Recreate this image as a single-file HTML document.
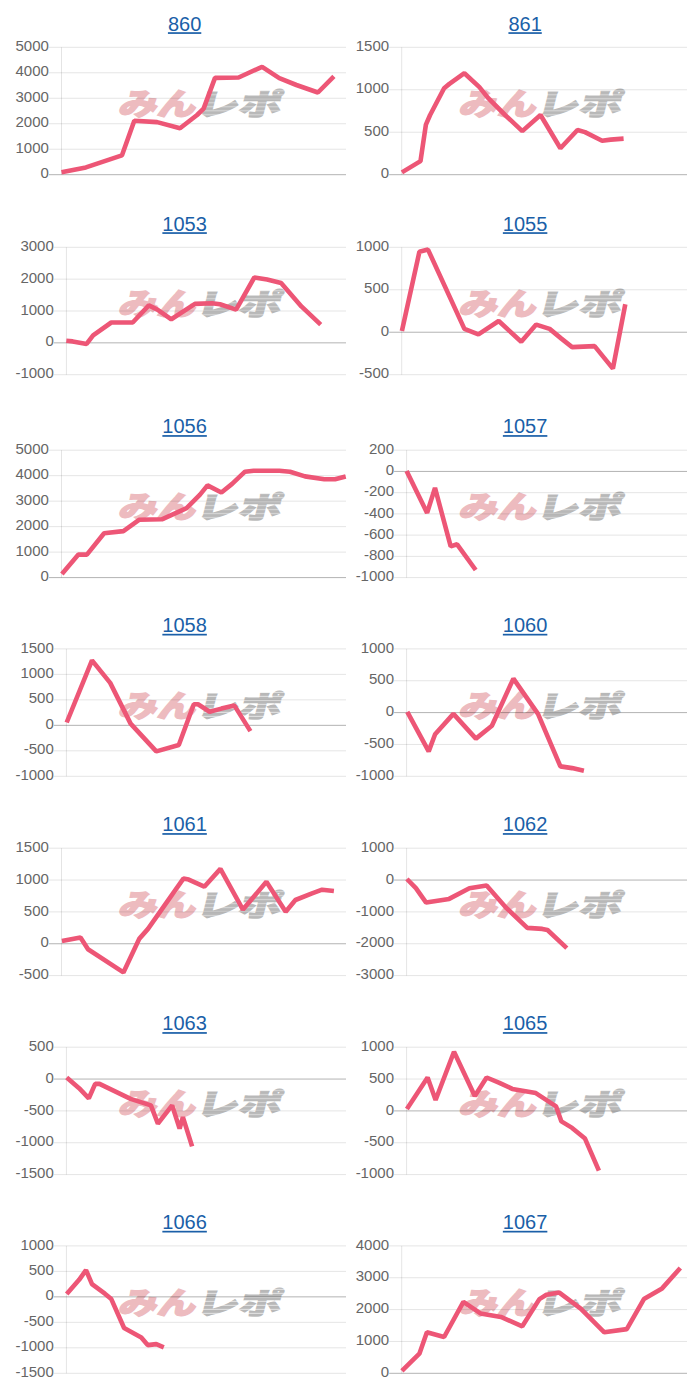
<!DOCTYPE html>
<html><head><meta charset="utf-8"><title>charts</title>
<style>
html,body{margin:0;padding:0;background:#fff;width:700px;height:1400px;overflow:hidden}
svg{position:absolute;left:0;top:0;display:block}
.lb{font-family:"Liberation Sans",sans-serif;font-size:15px;fill:#666;text-anchor:end}
.tt{font-family:"Liberation Sans",sans-serif;font-size:20px;fill:#1a5fa8;text-anchor:middle}
.wm text{font-family:"Liberation Sans","Noto Sans CJK JP",sans-serif;font-weight:900;stroke-width:1.4px;stroke-linejoin:miter}
.wm1{fill:#edbbbf;stroke:#edbbbf;font-size:30.5px}
.wm2{fill:url(#stripe);stroke:url(#stripe);font-size:29.5px}
</style></head><body>
<svg width="700" height="1400" viewBox="0 0 700 1400">
<defs><pattern id="stripe" patternUnits="userSpaceOnUse" width="8" height="4"><rect width="8" height="4" fill="#b8b8b8"/><rect y="3" width="8" height="1" fill="#dedede"/></pattern></defs>
<g><g class="wm"><text class="wm1" transform="translate(117.5,115.3) skewX(-14) scale(1.267,1)">みん</text><text class="wm2" transform="translate(195,115.3) skewX(-14) scale(1.437,1)">レポ</text></g><line x1="49" x2="346" y1="47.3" y2="47.3" stroke="rgba(0,0,0,0.105)"/><text class="lb" x="48.9" y="50.9">5000</text><line x1="49" x2="346" y1="72.78" y2="72.78" stroke="rgba(0,0,0,0.105)"/><text class="lb" x="48.9" y="76.38">4000</text><line x1="49" x2="346" y1="98.26" y2="98.26" stroke="rgba(0,0,0,0.105)"/><text class="lb" x="48.9" y="101.86">3000</text><line x1="49" x2="346" y1="123.74" y2="123.74" stroke="rgba(0,0,0,0.105)"/><text class="lb" x="48.9" y="127.34">2000</text><line x1="49" x2="346" y1="149.22" y2="149.22" stroke="rgba(0,0,0,0.105)"/><text class="lb" x="48.9" y="152.82">1000</text><line x1="49" x2="346" y1="174.7" y2="174.7" stroke="rgba(0,0,0,0.3)"/><text class="lb" x="48.9" y="178.3">0</text><line x1="61.5" x2="61.5" y1="47.3" y2="174.7" stroke="rgba(0,0,0,0.105)"/><polyline points="61.5,172.2 85.9,167.4 121.9,155.4 134.3,120.7 157.1,122.1 180,128.3 197.1,115 203.6,108.6 215,77.9 238.6,77.5 262.1,66.8 279.3,78.1 296.4,85 317.9,92.5 333.9,76.4" fill="none" stroke="#ed5676" stroke-width="4.6" stroke-linejoin="bevel" stroke-linecap="butt"/><text class="tt" x="184.6" y="30.5">860</text><rect x="167.92" y="32.2" width="33.36" height="1.7" fill="#1a5fa8"/></g>
<g><g class="wm"><text class="wm1" transform="translate(458,115.3) skewX(-14) scale(1.267,1)">みん</text><text class="wm2" transform="translate(535.5,115.3) skewX(-14) scale(1.437,1)">レポ</text></g><line x1="389.2" x2="687" y1="47.3" y2="47.3" stroke="rgba(0,0,0,0.105)"/><text class="lb" x="389.1" y="50.9">1500</text><line x1="389.2" x2="687" y1="89.77" y2="89.77" stroke="rgba(0,0,0,0.105)"/><text class="lb" x="389.1" y="93.37">1000</text><line x1="389.2" x2="687" y1="132.23" y2="132.23" stroke="rgba(0,0,0,0.105)"/><text class="lb" x="389.1" y="135.83">500</text><line x1="389.2" x2="687" y1="174.7" y2="174.7" stroke="rgba(0,0,0,0.3)"/><text class="lb" x="389.1" y="178.3">0</text><line x1="401.7" x2="401.7" y1="47.3" y2="174.7" stroke="rgba(0,0,0,0.105)"/><polyline points="401.9,172.4 420.5,161.1 425.9,124.6 430.1,115 444.1,88.2 449.4,83.9 464.4,73.2 479.4,87.1 488,97.9 505.1,115 522.3,131.1 540.5,115 560.4,148.2 577.5,130 585,132.1 602.1,140.7 610.7,139.6 623.6,138.6" fill="none" stroke="#ed5676" stroke-width="4.6" stroke-linejoin="bevel" stroke-linecap="butt"/><text class="tt" x="525.1" y="30.5">861</text><rect x="508.42" y="32.2" width="33.36" height="1.7" fill="#1a5fa8"/></g>
<g><g class="wm"><text class="wm1" transform="translate(117.5,315.3) skewX(-14) scale(1.267,1)">みん</text><text class="wm2" transform="translate(195,315.3) skewX(-14) scale(1.437,1)">レポ</text></g><line x1="53.9" x2="346" y1="247.3" y2="247.3" stroke="rgba(0,0,0,0.105)"/><text class="lb" x="53.8" y="250.9">3000</text><line x1="53.9" x2="346" y1="279.15" y2="279.15" stroke="rgba(0,0,0,0.105)"/><text class="lb" x="53.8" y="282.75">2000</text><line x1="53.9" x2="346" y1="311" y2="311" stroke="rgba(0,0,0,0.105)"/><text class="lb" x="53.8" y="314.6">1000</text><line x1="53.9" x2="346" y1="342.85" y2="342.85" stroke="rgba(0,0,0,0.3)"/><text class="lb" x="53.8" y="346.45">0</text><line x1="53.9" x2="346" y1="374.7" y2="374.7" stroke="rgba(0,0,0,0.105)"/><text class="lb" x="53.8" y="378.3">-1000</text><line x1="66.4" x2="66.4" y1="247.3" y2="374.7" stroke="rgba(0,0,0,0.105)"/><polyline points="66.3,340.7 72.7,341.4 86.6,343.9 93.1,335.4 111.3,322.5 132.7,322.5 148.8,305.4 157.4,309.6 171.3,319.3 194.9,303.9 212,303.2 220,304.3 236.1,309.6 254.3,277.5 267.1,279.6 281.1,282.9 301.4,306.4 320.7,324.6" fill="none" stroke="#ed5676" stroke-width="4.6" stroke-linejoin="bevel" stroke-linecap="butt"/><text class="tt" x="184.6" y="230.5">1053</text><rect x="162.36" y="232.2" width="44.48" height="1.7" fill="#1a5fa8"/></g>
<g><g class="wm"><text class="wm1" transform="translate(458,315.3) skewX(-14) scale(1.267,1)">みん</text><text class="wm2" transform="translate(535.5,315.3) skewX(-14) scale(1.437,1)">レポ</text></g><line x1="389.2" x2="687" y1="247.3" y2="247.3" stroke="rgba(0,0,0,0.105)"/><text class="lb" x="389.1" y="250.9">1000</text><line x1="389.2" x2="687" y1="289.77" y2="289.77" stroke="rgba(0,0,0,0.105)"/><text class="lb" x="389.1" y="293.37">500</text><line x1="389.2" x2="687" y1="332.23" y2="332.23" stroke="rgba(0,0,0,0.3)"/><text class="lb" x="389.1" y="335.83">0</text><line x1="389.2" x2="687" y1="374.7" y2="374.7" stroke="rgba(0,0,0,0.105)"/><text class="lb" x="389.1" y="378.3">-500</text><line x1="401.7" x2="401.7" y1="247.3" y2="374.7" stroke="rgba(0,0,0,0.105)"/><polyline points="401.9,331.1 419.4,251.8 428,249.6 464.4,328.9 478.4,334.3 498.7,321 521.2,341.8 536.2,324.6 549.6,328.9 561.4,338.6 572.1,347.1 594.6,346.1 612.9,368.6 625.3,304.3" fill="none" stroke="#ed5676" stroke-width="4.6" stroke-linejoin="bevel" stroke-linecap="butt"/><text class="tt" x="525.1" y="230.5">1055</text><rect x="502.86" y="232.2" width="44.48" height="1.7" fill="#1a5fa8"/></g>
<g><g class="wm"><text class="wm1" transform="translate(117.5,518.2) skewX(-14) scale(1.267,1)">みん</text><text class="wm2" transform="translate(195,518.2) skewX(-14) scale(1.437,1)">レポ</text></g><line x1="49" x2="346" y1="450.2" y2="450.2" stroke="rgba(0,0,0,0.105)"/><text class="lb" x="48.9" y="453.8">5000</text><line x1="49" x2="346" y1="475.68" y2="475.68" stroke="rgba(0,0,0,0.105)"/><text class="lb" x="48.9" y="479.28">4000</text><line x1="49" x2="346" y1="501.16" y2="501.16" stroke="rgba(0,0,0,0.105)"/><text class="lb" x="48.9" y="504.76">3000</text><line x1="49" x2="346" y1="526.64" y2="526.64" stroke="rgba(0,0,0,0.105)"/><text class="lb" x="48.9" y="530.24">2000</text><line x1="49" x2="346" y1="552.12" y2="552.12" stroke="rgba(0,0,0,0.105)"/><text class="lb" x="48.9" y="555.72">1000</text><line x1="49" x2="346" y1="577.6" y2="577.6" stroke="rgba(0,0,0,0.3)"/><text class="lb" x="48.9" y="581.2">0</text><line x1="61.5" x2="61.5" y1="450.2" y2="577.6" stroke="rgba(0,0,0,0.105)"/><polyline points="61.9,573.9 78.4,554.6 86.9,554.6 104.1,533.2 123.4,531.1 139.4,519.7 161.9,519.3 186.6,508.1 200,494.6 207.5,485.4 221.4,492.5 232.1,483.9 245,471.7 253.6,470.7 279.3,470.7 290,471.7 305,476.4 324.3,479.2 335,479.2 345.7,476.4" fill="none" stroke="#ed5676" stroke-width="4.6" stroke-linejoin="bevel" stroke-linecap="butt"/><text class="tt" x="184.6" y="433.4">1056</text><rect x="162.36" y="435.1" width="44.48" height="1.7" fill="#1a5fa8"/></g>
<g><g class="wm"><text class="wm1" transform="translate(458,518.2) skewX(-14) scale(1.267,1)">みん</text><text class="wm2" transform="translate(535.5,518.2) skewX(-14) scale(1.437,1)">レポ</text></g><line x1="394.1" x2="687" y1="450.2" y2="450.2" stroke="rgba(0,0,0,0.105)"/><text class="lb" x="394" y="453.8">200</text><line x1="394.1" x2="687" y1="471.43" y2="471.43" stroke="rgba(0,0,0,0.3)"/><text class="lb" x="394" y="475.03">0</text><line x1="394.1" x2="687" y1="492.67" y2="492.67" stroke="rgba(0,0,0,0.105)"/><text class="lb" x="394" y="496.27">-200</text><line x1="394.1" x2="687" y1="513.9" y2="513.9" stroke="rgba(0,0,0,0.105)"/><text class="lb" x="394" y="517.5">-400</text><line x1="394.1" x2="687" y1="535.13" y2="535.13" stroke="rgba(0,0,0,0.105)"/><text class="lb" x="394" y="538.73">-600</text><line x1="394.1" x2="687" y1="556.37" y2="556.37" stroke="rgba(0,0,0,0.105)"/><text class="lb" x="394" y="559.97">-800</text><line x1="394.1" x2="687" y1="577.6" y2="577.6" stroke="rgba(0,0,0,0.105)"/><text class="lb" x="394" y="581.2">-1000</text><line x1="406.6" x2="406.6" y1="450.2" y2="577.6" stroke="rgba(0,0,0,0.105)"/><polyline points="406.6,471.1 427.1,512.9 435,487.9 450.7,546.4 457.1,544.3 475.7,570" fill="none" stroke="#ed5676" stroke-width="4.6" stroke-linejoin="bevel" stroke-linecap="butt"/><text class="tt" x="525.1" y="433.4">1057</text><rect x="502.86" y="435.1" width="44.48" height="1.7" fill="#1a5fa8"/></g>
<g><g class="wm"><text class="wm1" transform="translate(117.5,716.9) skewX(-14) scale(1.267,1)">みん</text><text class="wm2" transform="translate(195,716.9) skewX(-14) scale(1.437,1)">レポ</text></g><line x1="53.9" x2="346" y1="648.9" y2="648.9" stroke="rgba(0,0,0,0.105)"/><text class="lb" x="53.8" y="652.5">1500</text><line x1="53.9" x2="346" y1="674.38" y2="674.38" stroke="rgba(0,0,0,0.105)"/><text class="lb" x="53.8" y="677.98">1000</text><line x1="53.9" x2="346" y1="699.86" y2="699.86" stroke="rgba(0,0,0,0.105)"/><text class="lb" x="53.8" y="703.46">500</text><line x1="53.9" x2="346" y1="725.34" y2="725.34" stroke="rgba(0,0,0,0.3)"/><text class="lb" x="53.8" y="728.94">0</text><line x1="53.9" x2="346" y1="750.82" y2="750.82" stroke="rgba(0,0,0,0.105)"/><text class="lb" x="53.8" y="754.42">-500</text><line x1="53.9" x2="346" y1="776.3" y2="776.3" stroke="rgba(0,0,0,0.105)"/><text class="lb" x="53.8" y="779.9">-1000</text><line x1="66.4" x2="66.4" y1="648.9" y2="776.3" stroke="rgba(0,0,0,0.105)"/><polyline points="66.7,722.5 92,660.4 110.2,682.9 130.6,723.6 156.3,751.4 178.8,745 193.8,704.3 198,704.3 209.6,711.8 221.4,708.6 234.3,705.4 250.4,731.1" fill="none" stroke="#ed5676" stroke-width="4.6" stroke-linejoin="bevel" stroke-linecap="butt"/><text class="tt" x="184.6" y="632.1">1058</text><rect x="162.36" y="633.8" width="44.48" height="1.7" fill="#1a5fa8"/></g>
<g><g class="wm"><text class="wm1" transform="translate(458,716.9) skewX(-14) scale(1.267,1)">みん</text><text class="wm2" transform="translate(535.5,716.9) skewX(-14) scale(1.437,1)">レポ</text></g><line x1="394.1" x2="687" y1="648.9" y2="648.9" stroke="rgba(0,0,0,0.105)"/><text class="lb" x="394" y="652.5">1000</text><line x1="394.1" x2="687" y1="680.75" y2="680.75" stroke="rgba(0,0,0,0.105)"/><text class="lb" x="394" y="684.35">500</text><line x1="394.1" x2="687" y1="712.6" y2="712.6" stroke="rgba(0,0,0,0.3)"/><text class="lb" x="394" y="716.2">0</text><line x1="394.1" x2="687" y1="744.45" y2="744.45" stroke="rgba(0,0,0,0.105)"/><text class="lb" x="394" y="748.05">-500</text><line x1="394.1" x2="687" y1="776.3" y2="776.3" stroke="rgba(0,0,0,0.105)"/><text class="lb" x="394" y="779.9">-1000</text><line x1="406.6" x2="406.6" y1="648.9" y2="776.3" stroke="rgba(0,0,0,0.105)"/><polyline points="407.3,711.8 428.7,751.4 435.1,734.3 453.4,713.9 475.9,738.6 491.9,725.7 513.4,678.6 538,713.9 560.4,766.4 572.1,768.1 583.9,770.7" fill="none" stroke="#ed5676" stroke-width="4.6" stroke-linejoin="bevel" stroke-linecap="butt"/><text class="tt" x="525.1" y="632.1">1060</text><rect x="502.86" y="633.8" width="44.48" height="1.7" fill="#1a5fa8"/></g>
<g><g class="wm"><text class="wm1" transform="translate(117.5,916.2) skewX(-14) scale(1.267,1)">みん</text><text class="wm2" transform="translate(195,916.2) skewX(-14) scale(1.437,1)">レポ</text></g><line x1="49" x2="346" y1="848.2" y2="848.2" stroke="rgba(0,0,0,0.105)"/><text class="lb" x="48.9" y="851.8">1500</text><line x1="49" x2="346" y1="880.05" y2="880.05" stroke="rgba(0,0,0,0.105)"/><text class="lb" x="48.9" y="883.65">1000</text><line x1="49" x2="346" y1="911.9" y2="911.9" stroke="rgba(0,0,0,0.105)"/><text class="lb" x="48.9" y="915.5">500</text><line x1="49" x2="346" y1="943.75" y2="943.75" stroke="rgba(0,0,0,0.3)"/><text class="lb" x="48.9" y="947.35">0</text><line x1="49" x2="346" y1="975.6" y2="975.6" stroke="rgba(0,0,0,0.105)"/><text class="lb" x="48.9" y="979.2">-500</text><line x1="61.5" x2="61.5" y1="848.2" y2="975.6" stroke="rgba(0,0,0,0.105)"/><polyline points="61.9,941.1 80.5,937.5 88,949.3 123.4,972.4 139.4,938.6 148,928.9 183.4,878.6 188.7,879.6 204.3,886.7 220.4,868.9 242.9,909.6 266.4,881.8 285.7,911.8 295.4,900 311.4,893.6 322.1,889.7 333.9,891" fill="none" stroke="#ed5676" stroke-width="4.6" stroke-linejoin="bevel" stroke-linecap="butt"/><text class="tt" x="184.6" y="831.4">1061</text><rect x="162.36" y="833.1" width="44.48" height="1.7" fill="#1a5fa8"/></g>
<g><g class="wm"><text class="wm1" transform="translate(458,916.2) skewX(-14) scale(1.267,1)">みん</text><text class="wm2" transform="translate(535.5,916.2) skewX(-14) scale(1.437,1)">レポ</text></g><line x1="394.1" x2="687" y1="848.2" y2="848.2" stroke="rgba(0,0,0,0.105)"/><text class="lb" x="394" y="851.8">1000</text><line x1="394.1" x2="687" y1="880.05" y2="880.05" stroke="rgba(0,0,0,0.3)"/><text class="lb" x="394" y="883.65">0</text><line x1="394.1" x2="687" y1="911.9" y2="911.9" stroke="rgba(0,0,0,0.105)"/><text class="lb" x="394" y="915.5">-1000</text><line x1="394.1" x2="687" y1="943.75" y2="943.75" stroke="rgba(0,0,0,0.105)"/><text class="lb" x="394" y="947.35">-2000</text><line x1="394.1" x2="687" y1="975.6" y2="975.6" stroke="rgba(0,0,0,0.105)"/><text class="lb" x="394" y="979.2">-3000</text><line x1="406.6" x2="406.6" y1="848.2" y2="975.6" stroke="rgba(0,0,0,0.105)"/><polyline points="406.9,879 415.9,888.2 426.1,902.6 449.1,898.9 469.4,888.2 486.6,885.4 505.9,907.5 527.3,927.9 542.3,928.9 547.5,930 566.8,948.2" fill="none" stroke="#ed5676" stroke-width="4.6" stroke-linejoin="bevel" stroke-linecap="butt"/><text class="tt" x="525.1" y="831.4">1062</text><rect x="502.86" y="833.1" width="44.48" height="1.7" fill="#1a5fa8"/></g>
<g><g class="wm"><text class="wm1" transform="translate(117.5,1115.2) skewX(-14) scale(1.267,1)">みん</text><text class="wm2" transform="translate(195,1115.2) skewX(-14) scale(1.437,1)">レポ</text></g><line x1="53.9" x2="346" y1="1047.2" y2="1047.2" stroke="rgba(0,0,0,0.105)"/><text class="lb" x="53.8" y="1050.8">500</text><line x1="53.9" x2="346" y1="1079.05" y2="1079.05" stroke="rgba(0,0,0,0.3)"/><text class="lb" x="53.8" y="1082.65">0</text><line x1="53.9" x2="346" y1="1110.9" y2="1110.9" stroke="rgba(0,0,0,0.105)"/><text class="lb" x="53.8" y="1114.5">-500</text><line x1="53.9" x2="346" y1="1142.75" y2="1142.75" stroke="rgba(0,0,0,0.105)"/><text class="lb" x="53.8" y="1146.35">-1000</text><line x1="53.9" x2="346" y1="1174.6" y2="1174.6" stroke="rgba(0,0,0,0.105)"/><text class="lb" x="53.8" y="1178.2">-1500</text><line x1="66.4" x2="66.4" y1="1047.2" y2="1174.6" stroke="rgba(0,0,0,0.105)"/><polyline points="66.7,1077.5 79.1,1088.2 88.8,1098.3 95.2,1083.9 99.5,1083.9 130.6,1098.9 150.9,1105.4 157.9,1123.6 172.1,1105.4 179.6,1128.6 182.9,1117.1 192.1,1146.4" fill="none" stroke="#ed5676" stroke-width="4.6" stroke-linejoin="bevel" stroke-linecap="butt"/><text class="tt" x="184.6" y="1030.4">1063</text><rect x="162.36" y="1032.1" width="44.48" height="1.7" fill="#1a5fa8"/></g>
<g><g class="wm"><text class="wm1" transform="translate(458,1115.2) skewX(-14) scale(1.267,1)">みん</text><text class="wm2" transform="translate(535.5,1115.2) skewX(-14) scale(1.437,1)">レポ</text></g><line x1="394.1" x2="687" y1="1047.2" y2="1047.2" stroke="rgba(0,0,0,0.105)"/><text class="lb" x="394" y="1050.8">1000</text><line x1="394.1" x2="687" y1="1079.05" y2="1079.05" stroke="rgba(0,0,0,0.105)"/><text class="lb" x="394" y="1082.65">500</text><line x1="394.1" x2="687" y1="1110.9" y2="1110.9" stroke="rgba(0,0,0,0.3)"/><text class="lb" x="394" y="1114.5">0</text><line x1="394.1" x2="687" y1="1142.75" y2="1142.75" stroke="rgba(0,0,0,0.105)"/><text class="lb" x="394" y="1146.35">-500</text><line x1="394.1" x2="687" y1="1174.6" y2="1174.6" stroke="rgba(0,0,0,0.105)"/><text class="lb" x="394" y="1178.2">-1000</text><line x1="406.6" x2="406.6" y1="1047.2" y2="1174.6" stroke="rgba(0,0,0,0.105)"/><polyline points="406.9,1109 427.6,1077.5 435.6,1100 454,1051.8 474.8,1096.1 486.6,1077.5 499.4,1082.9 512.3,1088.9 535.8,1093.1 556.1,1106.4 561.4,1121.4 572.1,1127.9 585,1138.6 598.9,1170.7" fill="none" stroke="#ed5676" stroke-width="4.6" stroke-linejoin="bevel" stroke-linecap="butt"/><text class="tt" x="525.1" y="1030.4">1065</text><rect x="502.86" y="1032.1" width="44.48" height="1.7" fill="#1a5fa8"/></g>
<g><g class="wm"><text class="wm1" transform="translate(117.5,1313.9) skewX(-14) scale(1.267,1)">みん</text><text class="wm2" transform="translate(195,1313.9) skewX(-14) scale(1.437,1)">レポ</text></g><line x1="53.9" x2="346" y1="1245.9" y2="1245.9" stroke="rgba(0,0,0,0.105)"/><text class="lb" x="53.8" y="1249.5">1000</text><line x1="53.9" x2="346" y1="1271.38" y2="1271.38" stroke="rgba(0,0,0,0.105)"/><text class="lb" x="53.8" y="1274.98">500</text><line x1="53.9" x2="346" y1="1296.86" y2="1296.86" stroke="rgba(0,0,0,0.3)"/><text class="lb" x="53.8" y="1300.46">0</text><line x1="53.9" x2="346" y1="1322.34" y2="1322.34" stroke="rgba(0,0,0,0.105)"/><text class="lb" x="53.8" y="1325.94">-500</text><line x1="53.9" x2="346" y1="1347.82" y2="1347.82" stroke="rgba(0,0,0,0.105)"/><text class="lb" x="53.8" y="1351.42">-1000</text><line x1="53.9" x2="346" y1="1373.3" y2="1373.3" stroke="rgba(0,0,0,0.105)"/><text class="lb" x="53.8" y="1376.9">-1500</text><line x1="66.4" x2="66.4" y1="1245.9" y2="1373.3" stroke="rgba(0,0,0,0.105)"/><polyline points="66.7,1294.1 79.1,1279.8 86,1270.1 92,1284.1 104.9,1293.7 111.3,1299.1 124.1,1328 141.3,1337.6 147.7,1345.1 156.3,1344.1 163.8,1347.3" fill="none" stroke="#ed5676" stroke-width="4.6" stroke-linejoin="bevel" stroke-linecap="butt"/><text class="tt" x="184.6" y="1229.1">1066</text><rect x="162.36" y="1230.8" width="44.48" height="1.7" fill="#1a5fa8"/></g>
<g><g class="wm"><text class="wm1" transform="translate(458,1313.9) skewX(-14) scale(1.267,1)">みん</text><text class="wm2" transform="translate(535.5,1313.9) skewX(-14) scale(1.437,1)">レポ</text></g><line x1="389.2" x2="687" y1="1245.9" y2="1245.9" stroke="rgba(0,0,0,0.105)"/><text class="lb" x="389.1" y="1249.5">4000</text><line x1="389.2" x2="687" y1="1277.75" y2="1277.75" stroke="rgba(0,0,0,0.105)"/><text class="lb" x="389.1" y="1281.35">3000</text><line x1="389.2" x2="687" y1="1309.6" y2="1309.6" stroke="rgba(0,0,0,0.105)"/><text class="lb" x="389.1" y="1313.2">2000</text><line x1="389.2" x2="687" y1="1341.45" y2="1341.45" stroke="rgba(0,0,0,0.105)"/><text class="lb" x="389.1" y="1345.05">1000</text><line x1="389.2" x2="687" y1="1373.3" y2="1373.3" stroke="rgba(0,0,0,0.3)"/><text class="lb" x="389.1" y="1376.9">0</text><line x1="401.7" x2="401.7" y1="1245.9" y2="1373.3" stroke="rgba(0,0,0,0.105)"/><polyline points="401.9,1370.9 419.4,1353.7 426.9,1332.3 444.1,1337 463.4,1301.9 480.5,1313.4 500.9,1316.9 522.3,1326.3 539.4,1299.1 546.4,1294.8 559.3,1292.6 580.7,1308.7 604.3,1332.3 626.8,1329.1 643.9,1299.1 662.1,1288.4 680.3,1268" fill="none" stroke="#ed5676" stroke-width="4.6" stroke-linejoin="bevel" stroke-linecap="butt"/><text class="tt" x="525.1" y="1229.1">1067</text><rect x="502.86" y="1230.8" width="44.48" height="1.7" fill="#1a5fa8"/></g>
</svg>
</body></html>
